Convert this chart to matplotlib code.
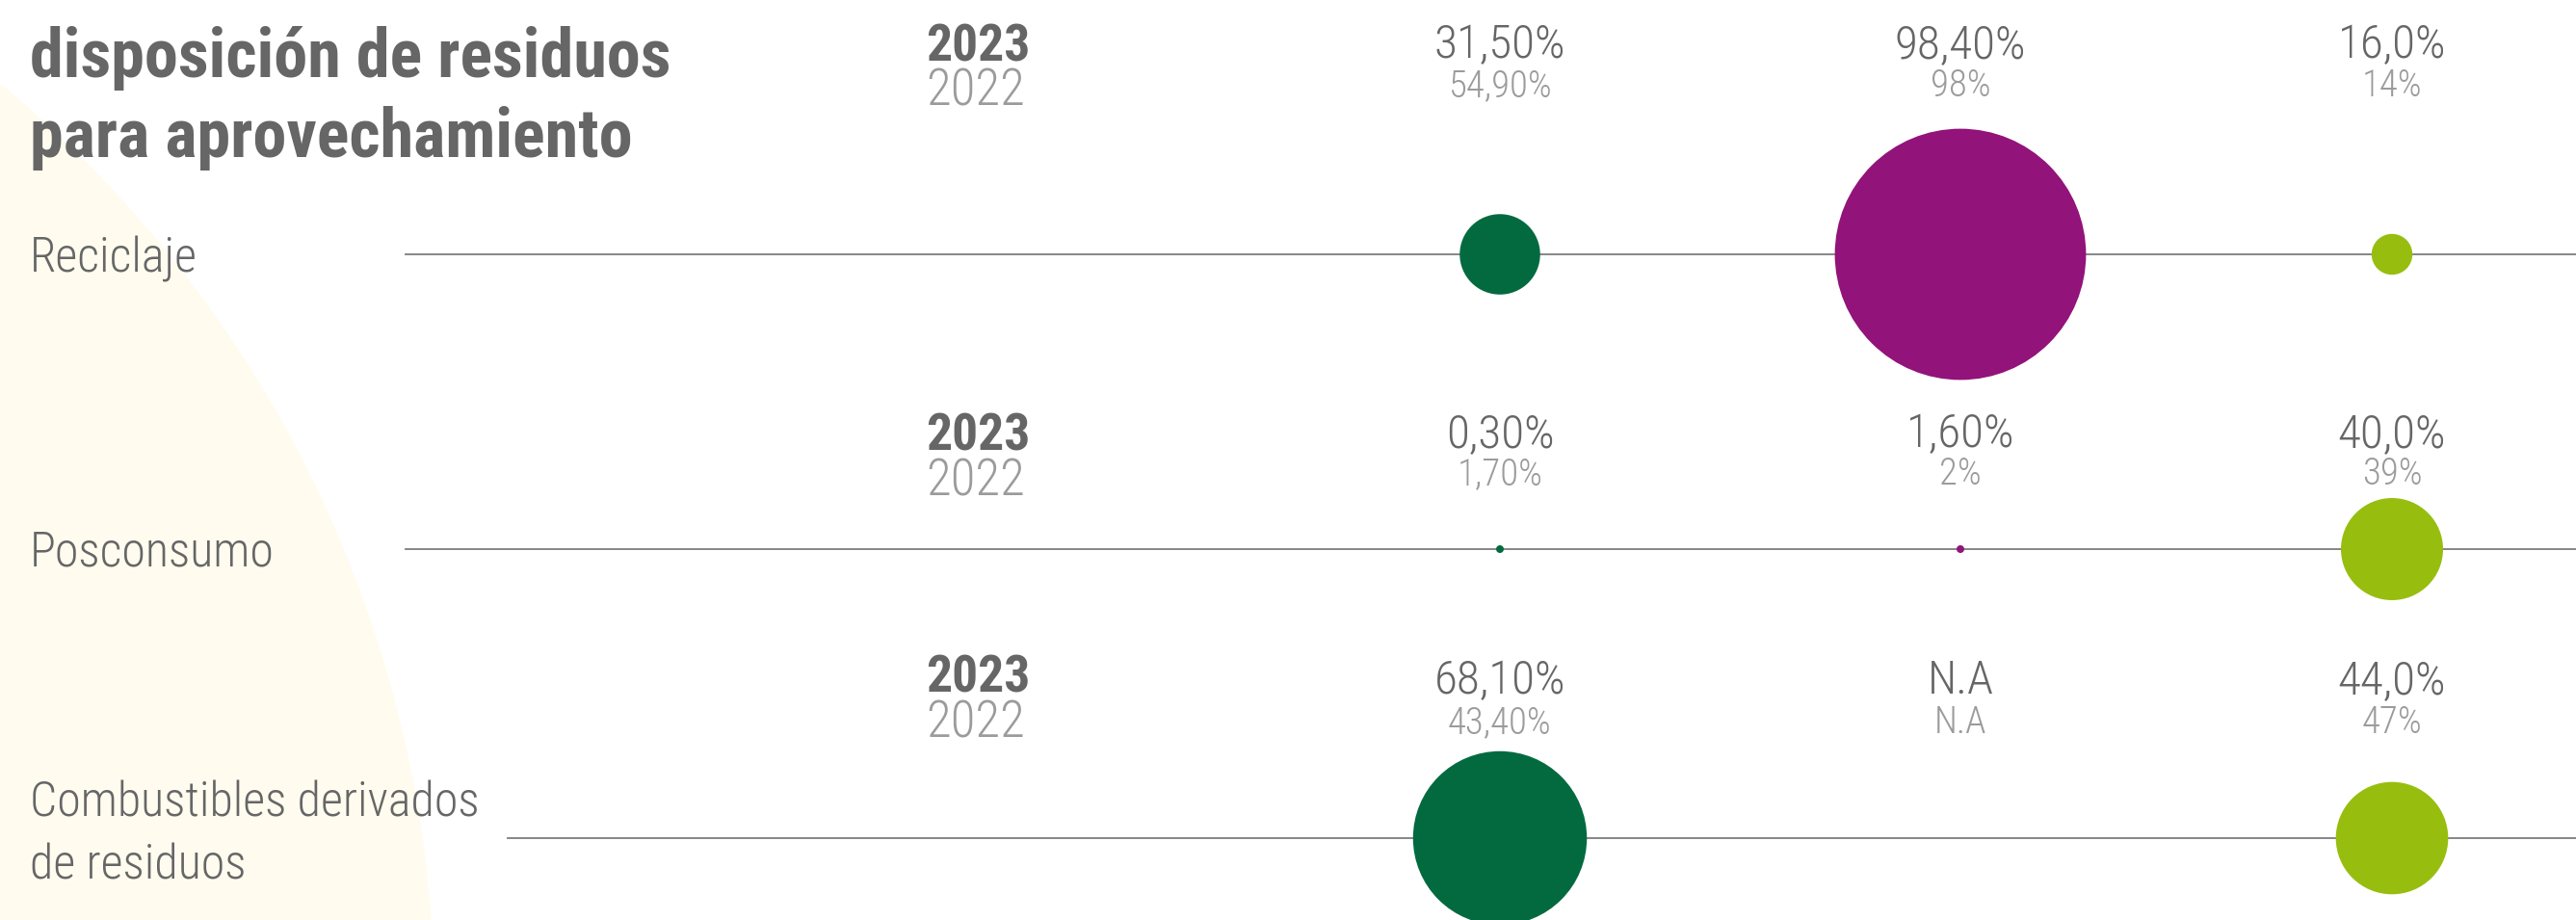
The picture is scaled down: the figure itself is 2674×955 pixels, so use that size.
import numpy as np
import matplotlib.pyplot as plt
from matplotlib.patches import Circle

plt.rcParams['font.family'] = ['Roboto Condensed', 'DejaVu Sans']

# datos
categorias = ["Reciclaje", "Posconsumo", "Combustibles derivados\nde residuos"]
anios = ["2023", "2022"]
valores_2023 = [[31.5, 98.4, 16.0],
                [0.3, 1.6, 40.0],
                [68.1, np.nan, 44.0]]
etiquetas_2023 = [["31,50%", "98,40%", "16,0%"],
                  ["0,30%", "1,60%", "40,0%"],
                  ["68,10%", "N.A", "44,0%"]]
etiquetas_2022 = [["54,90%", "98%", "14%"],
                  ["1,70%", "2%", "39%"],
                  ["43,40%", "N.A", "47%"]]
colores = ["#036A40", "#921379", "#97BE0E"]

W, H = 2674, 955
fig = plt.figure(figsize=(W / 100, H / 100), dpi=100)
ax = fig.add_axes([0, 0, 1, 1])
ax.set_xlim(0, W)
ax.set_ylim(H, 0)
ax.axis("off")

# fondo crema a la izquierda
ax.add_patch(Circle((-791, 1044), 1242, color="#FFFCEF", lw=0, zorder=0))

gris = "#666666"
gris_claro = "#9b9b9b"

ax.text(31, 80, "disposición de residuos", fontsize=50.5, fontweight="bold",
        color=gris, va="baseline")
ax.text(31, 163, "para aprovechamiento", fontsize=50.5, fontweight="bold",
        color=gris, va="baseline")

col_x = [1557, 2035, 2483]
fila_y = [264, 570, 870]
linea_x0 = [421, 421, 527]
base_anio = [(63, 110), (467, 514), (718, 765)]
base_valor = [(60, 100), (464, 503), (720, 761)]
base_cat = [[282], [587], [847, 912]]

k = 1.325  # px de radio por punto porcentual

for i, cat in enumerate(categorias):
    y = fila_y[i]
    ax.plot([linea_x0[i], W], [y, y], color="#7d7d7d", lw=1.3, zorder=1)
    for j, linea in enumerate(cat.split("\n")):
        ax.text(31, base_cat[i][j], linea, fontsize=36, fontweight="light",
                color=gris, va="baseline")
    ax.text(961, base_anio[i][0], anios[0], fontsize=38.5, fontweight="bold",
            color=gris, va="baseline")
    ax.text(961, base_anio[i][1], anios[1], fontsize=38, fontweight="light",
            color=gris_claro, va="baseline")
    for c in range(3):
        ax.text(col_x[c], base_valor[i][0], etiquetas_2023[i][c], fontsize=35.5,
                fontweight="light", color=gris, ha="center", va="baseline")
        ax.text(col_x[c], base_valor[i][1], etiquetas_2022[i][c], fontsize=28,
                fontweight="light", color=gris_claro, ha="center", va="baseline")
        v = valores_2023[i][c]
        if np.isnan(v):
            continue
        r = max(k * v, 4)
        ax.add_patch(Circle((col_x[c], y), r, color=colores[c], lw=0, zorder=2))

fig.savefig("out.png", dpi=100, facecolor="white")
